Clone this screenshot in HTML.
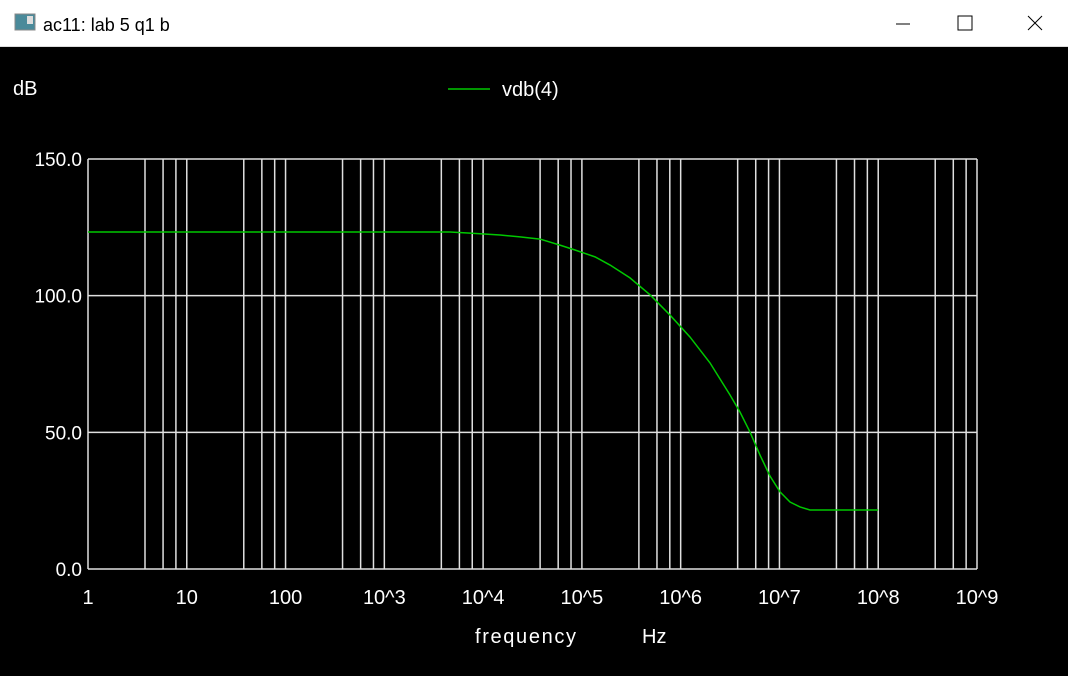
<!DOCTYPE html>
<html><head><meta charset="utf-8"><style>
body{margin:0;width:1068px;height:676px;overflow:hidden;background:#000;font-family:"Liberation Sans",Arial,sans-serif}
#tb{position:absolute;left:0;top:0;width:1068px;height:46px;background:#fff;border-bottom:1px solid #ddd}
svg{position:absolute;left:0;top:0}
</style></head><body>
<div id="tb"></div>
<svg id="c" width="1068" height="676">
<g><rect x="15" y="14" width="20" height="16" fill="#4a8a9a" stroke="#888"/><rect x="27" y="16" width="6" height="8" fill="#ddd"/></g>
<text x="43" y="31" font-size="18" fill="#000">ac11: lab 5 q1 b</text>
<line x1="896" y1="24" x2="910" y2="24" stroke="#000"/>
<rect x="958" y="16" width="14" height="14" fill="none" stroke="#000"/>
<path d="M1028 16 L1042 30 M1042 16 L1028 30" stroke="#000"/>
<text x="13" y="95" font-size="20" fill="#fff">dB</text>
<line x1="448" y1="89" x2="490" y2="89" stroke="#00c800" stroke-width="1.5"/>
<text x="502" y="96" font-size="20" fill="#fff">vdb(4)</text>
<text x="475" y="643" font-size="20" fill="#fff" textLength="101">frequency</text>
<text x="642" y="643" font-size="20" fill="#fff">Hz</text>
<g id="grid"></g><g id="labels"></g><g id="series"></g>
</svg>
<script>
const yTicks=[0,50,100,150];
const yTickLabels=["0.0","50.0","100.0","150.0"];
const xDecades=[0,1,2,3,4,5,6,7,8,9];
const xTickLabels=["1","10","100","10^3","10^4","10^5","10^6","10^7","10^8","10^9"];
const minorFracs=[0.577,0.76,0.89];
const logFreq=[0,3.665,3.867,4.171,4.373,4.576,4.778,4.930,5.133,5.285,5.487,5.690,5.892,6.094,6.297,6.499,6.601,6.702,6.803,6.904,7.006,7.107,7.208,7.309,8.0];
const vdb=[123.3,123.3,122.9,122.2,121.5,120.7,118.5,116.7,114.2,111.2,106.5,100.3,92.9,84.9,75.4,63.7,57.4,50.1,41.7,34.0,28.2,24.5,22.7,21.6,21.6];
const X0=88,X1=977,Y0=569,Y1=159;
const xs=l=>X0+(X1-X0)*l/9, ys=v=>Y0-(Y0-Y1)*v/150;
const NS="http://www.w3.org/2000/svg";
function mk(t,a,p){const e=document.createElementNS(NS,t);for(const k in a)e.setAttribute(k,a[k]);p.appendChild(e);return e;}
const g=document.getElementById('grid'),lb=document.getElementById('labels'),sr=document.getElementById('series');
yTicks.forEach((v,i)=>{
 const l=mk('line',{x1:X0,x2:X1,y1:ys(v),y2:ys(v),stroke:'#e0e0e0','stroke-width':1.5},g);
 
 
 const t=mk('text',{x:82,y:ys(v)+7,'text-anchor':'end','font-size':19,fill:'#fff'},lb);t.textContent=yTickLabels[i];
 
 
});
xDecades.forEach((d,i)=>{
 const l=mk('line',{x1:xs(d),x2:xs(d),y1:Y1,y2:Y0,stroke:'#e0e0e0','stroke-width':1.5},g);
 
 
 if(d<9)minorFracs.forEach(f=>{const m=mk('line',{x1:xs(d+f),x2:xs(d+f),y1:Y1,y2:Y0,stroke:'#e0e0e0','stroke-width':1.5},g);
  
  });
 const t=mk('text',{x:xs(d),y:604,'text-anchor':'middle','font-size':20,fill:'#fff'},lb);t.textContent=xTickLabels[i];
 
 
});
const p=mk('polyline',{points:logFreq.map((l,i)=>xs(l)+','+ys(vdb[i])).join(' '),fill:'none',stroke:'#00c800','stroke-width':1.5},sr);


</script>
</body></html>
